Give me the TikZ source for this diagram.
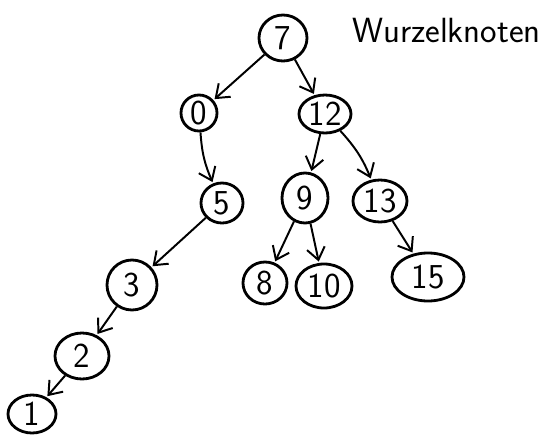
\documentclass[tikz,border=0pt]{standalone}
\usepackage{tikz}
\usetikzlibrary{arrows.meta,shapes.geometric}

\begin{document}
\begin{tikzpicture}[
    x=0.025cm, y=-0.025cm,
    key/.style={draw,ellipse,line width=2pt,inner sep=0pt,
                minimum width=#1,font=\sffamily\Huge},
    key/.default=0.95cm,
    arr/.style={-{Straight Barb[length=3mm,width=4.5mm]},line width=1.4pt,
                shorten >=1pt},
]
\useasboundingbox (0,0) rectangle (547,435);

% root
\node[key=1.2cm,minimum height=1.15cm] (n7) at (283,38) {7};
\node[font=\sffamily\Huge,anchor=west] (root) at (348,30) {Wurzelknoten};

% left subtree
\node[key=0.9cm,minimum height=0.9cm]   (n0) at (199,113) {0};
\node[key=1.05cm,minimum height=1.0cm]  (n5) at (222,203) {5};
\node[key=1.25cm,minimum height=1.25cm] (n3) at (132,285) {3};
\node[key=1.35cm,minimum height=1.15cm] (n2) at (82,356)  {2};
\node[key=1.2cm,minimum height=0.95cm]  (n1) at (32,414)  {1};

% right subtree
\node[key=1.3cm,minimum height=0.95cm]  (n12) at (325,114) {12};
\node[key=1.15cm,minimum height=1.25cm] (n9)  at (305,198) {9};
\node[key=1.35cm,minimum height=1.05cm] (n13) at (380,201) {13};
\node[key=1.1cm,minimum height=1.05cm]  (n8)  at (265,283) {8};
\node[key=1.4cm,minimum height=1.1cm]   (n10) at (324,286) {10};
\node[key=1.8cm,minimum height=1.2cm]   (n15) at (428,277) {15};

% edges
\draw[arr] (n7) -- (n0);
\draw[arr] (n7) -- (n12);
\draw[arr] (n0) to[bend right=10] (n5);
\draw[arr] (n5) -- (n3);
\draw[arr] (n3) -- (n2);
\draw[arr] (n2) -- (n1);
\draw[arr] (n12) -- (n9);
\draw[arr] (n12) to[bend left=10] (n13);
\draw[arr] (n9) -- (n8);
\draw[arr] (n9) -- (n10);
\draw[arr] (n13) -- (n15);

\end{tikzpicture}
\end{document}
